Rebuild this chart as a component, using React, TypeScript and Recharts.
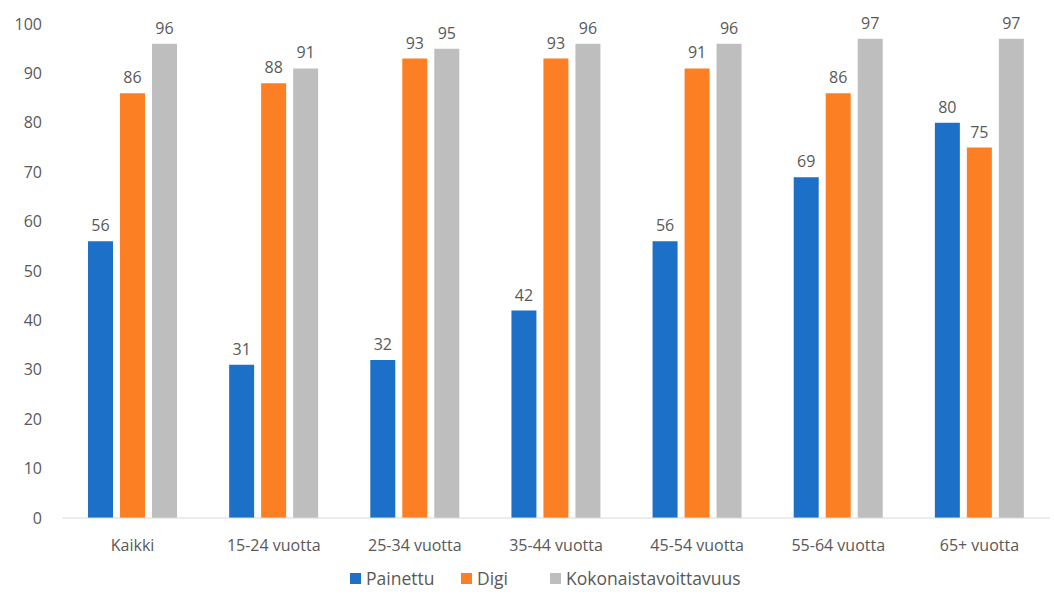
import React from 'react';
import { BarChart, Bar, XAxis, YAxis, Legend, LabelList } from 'recharts';

const categories = ['Kaikki', '15-24 vuotta', '25-34 vuotta', '35-44 vuotta', '45-54 vuotta', '55-64 vuotta', '65+ vuotta'];
const painettu = [56, 31, 32, 42, 56, 69, 80];
const digi = [86, 88, 93, 93, 91, 86, 75];
const kokonais = [96, 91, 95, 96, 96, 97, 97];
const yTicks = [0, 10, 20, 30, 40, 50, 60, 70, 80, 90, 100];

const series = [
  { key: 'painettu', name: 'Painettu', color: '#1c70c8', w: 111 },
  { key: 'digi', name: 'Digi', color: '#fd7f23', w: 89 },
  { key: 'kokonais', name: 'Kokonaistavoittavuus', color: '#bebebe', w: 191 }
];

const data = categories.map((c, i) => ({
  category: c,
  painettu: painettu[i],
  digi: digi[i],
  kokonais: kokonais[i]
}));

const FONT = '"Open Sans", "Noto Sans", sans-serif';
const TEXT = '#595959';

// legend drawn by hand to match spacing
const renderLegend = () => (
  <div style={{ display: 'flex', justifyContent: 'center', paddingLeft: 41, fontFamily: FONT, fontSize: 17.5, color: TEXT, lineHeight: '22px' }}>
    {series.map(s => (
      <div key={s.key} style={{ display: 'flex', alignItems: 'center', width: s.w }}>
        <div style={{ width: 11, height: 11, background: s.color, marginRight: 5 }} />
        <span>{s.name}</span>
      </div>
    ))}
  </div>
);

export default function App() {
  return (
    <div style={{ position: 'absolute', left: 0, top: 0, background: '#fff' }}>
      <BarChart
        width={1054}
        height={594}
        data={data}
        margin={{ top: 24, right: 4, left: 0, bottom: 24 }}
        barCategoryGap={26}
        barGap={7}
      >
        <XAxis
          dataKey="category"
          tick={{ fontSize: 16, fill: TEXT, fontFamily: FONT }}
          tickLine={false}
          axisLine={{ stroke: '#d9d9d9' }}
          tickMargin={16}
          interval={0}
        />
        <YAxis
          width={62}
          domain={[0, 100]}
          ticks={yTicks}
          axisLine={false}
          tickLine={false}
          tickSize={0}
          tickMargin={20}
          tick={{ fontSize: 16, fill: TEXT, fontFamily: FONT }}
        />
        <Legend verticalAlign="bottom" content={renderLegend} wrapperStyle={{ bottom: 5 }} />
        {series.map(s => (
          <Bar key={s.key} dataKey={s.key} name={s.name} fill={s.color} isAnimationActive={false}>
            <LabelList dataKey={s.key} position="top" offset={10} fill={TEXT} fontSize={16} fontFamily={FONT} />
          </Bar>
        ))}
      </BarChart>
    </div>
  );
}
